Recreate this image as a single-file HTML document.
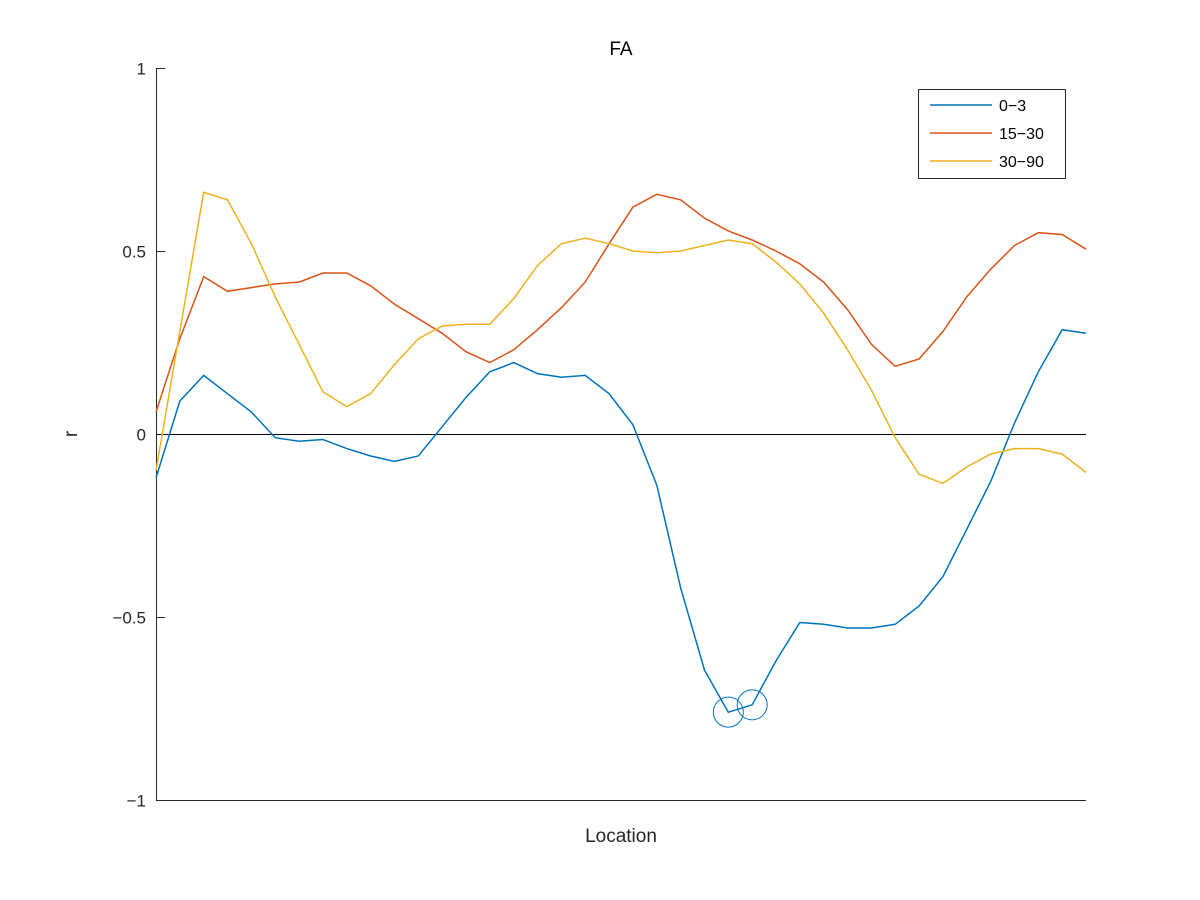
<!DOCTYPE html>
<html><head><meta charset="utf-8"><style>
body{margin:0;background:#fff}
svg{display:block;font-family:"Liberation Sans","DejaVu Sans",sans-serif}
</style></head><body>
<svg id="chart" width="1200" height="900" viewBox="0 0 1200 900">
<rect width="1200" height="900" fill="#fff"/>
<g id="plot"></g>
</svg>
<script>
const blue=[-0.12,0.09,0.16,0.11,0.06,-0.01,-0.02,-0.015,-0.04,-0.06,-0.075,-0.06,0.02,0.1,0.17,0.195,0.165,0.155,0.16,0.11,0.025,-0.14,-0.42,-0.645,-0.76,-0.74,-0.62,-0.515,-0.52,-0.53,-0.53,-0.52,-0.47,-0.39,-0.26,-0.13,0.03,0.17,0.285,0.275];
const red=[0.06,0.26,0.43,0.39,0.4,0.41,0.415,0.44,0.44,0.405,0.355,0.315,0.275,0.225,0.195,0.23,0.285,0.345,0.415,0.52,0.62,0.655,0.64,0.59,0.555,0.53,0.5,0.465,0.415,0.34,0.245,0.185,0.205,0.28,0.375,0.45,0.515,0.55,0.545,0.505];
const yellow=[-0.1,0.28,0.66,0.64,0.52,0.375,0.245,0.115,0.075,0.11,0.19,0.26,0.295,0.3,0.3,0.37,0.46,0.52,0.535,0.52,0.5,0.495,0.5,0.515,0.53,0.52,0.47,0.41,0.33,0.23,0.12,-0.01,-0.11,-0.135,-0.09,-0.055,-0.04,-0.04,-0.055,-0.105];
const yTicks=[1,0.5,0,-0.5,-1];
const yTickLabels=["1","0.5","0","\u22120.5","\u22121"];
const seriesNames=["0\u22123","15\u221230","30\u221290"];
const markedIdx=[24,25];

const NS="http://www.w3.org/2000/svg";
const g=document.getElementById('plot');
const L=156,R=1086,T=68,B=800;
const n=blue.length;
const xs=i=>L+(R-L)*i/(n-1);
const ys=v=>T+(1-v)/2*(B-T);
const crisp=v=>Math.round(v)+0.5;
function mk(tag,attrs,parent){const e=document.createElementNS(NS,tag);for(const k in attrs)e.setAttribute(k,attrs[k]);(parent||g).appendChild(e);return e;}

let e=mk('path',{d:`M${L+0.5} ${T}V${B+0.5}H${R}`,fill:'none',stroke:'#262626','stroke-width':1});


yTicks.forEach((t,i)=>{
  const y=crisp(ys(t));
  let tk=mk('line',{x1:L,x2:L+9,y1:y,y2:y,stroke:'#262626'});
  
  
  let tx=mk('text',{x:L-10,y:y+6,'text-anchor':'end','font-size':17,fill:'#262626'});
  tx.textContent=yTickLabels[i];
  
  
});
e=mk('line',{x1:L,x2:R,y1:crisp(ys(0)),y2:crisp(ys(0)),stroke:'#000','stroke-width':1});



const colors=['#0072BD','#D95319','#EDB120'];
[blue,red,yellow].forEach((s,k)=>{
  const d=s.map((v,i)=>(i?'L':'M')+xs(i).toFixed(1)+' '+ys(v).toFixed(1)).join('');
  let p=mk('path',{d,fill:'none',stroke:colors[k],'stroke-width':1.5});
  
  
});
markedIdx.forEach(i=>{
  let c=mk('circle',{cx:xs(i),cy:ys(blue[i]),r:15,fill:'none',stroke:'#0072BD','stroke-width':1});
  
  
});

e=mk('text',{x:621,y:55,'text-anchor':'middle','font-size':19,fill:'#000'});e.textContent='FA';


e=mk('text',{x:621,y:842,'text-anchor':'middle','font-size':19,fill:'#262626'});e.textContent='Location';


e=mk('text',{x:0,y:0,'text-anchor':'middle','font-size':19,fill:'#262626',transform:'translate(77,434) rotate(-90)'});e.textContent='r';



const lg=mk('g',{});


mk('rect',{x:918.5,y:89.5,width:147,height:89,fill:'#fff',stroke:'#262626'},lg);
seriesNames.forEach((nm,k)=>{
  const y=105+k*28;
  let en=mk('g',{},lg);
  
  
  mk('line',{x1:930,x2:992,y1:y,y2:y,stroke:colors[k],'stroke-width':1.5},en);
  let t=mk('text',{x:999,y:y+6,'font-size':16,fill:'#000'},en);t.textContent=nm;
});
</script>
</body></html>
